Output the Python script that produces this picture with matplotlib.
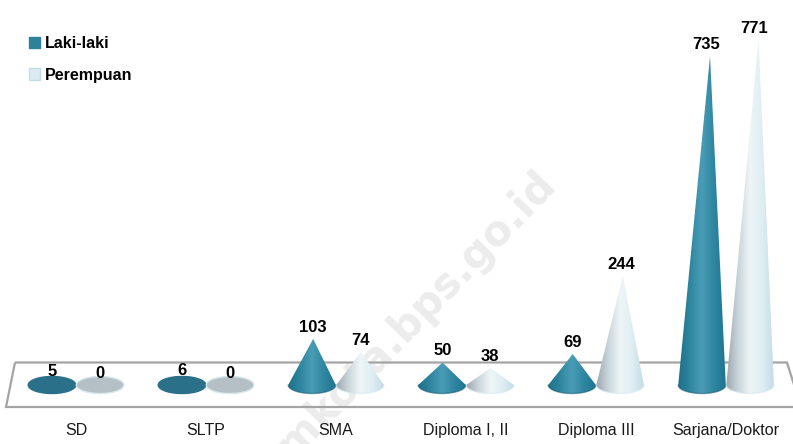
import numpy as np
import matplotlib
matplotlib.use('Agg')
import matplotlib.pyplot as plt
from matplotlib.colors import LinearSegmentedColormap
from matplotlib.patches import Patch, Polygon

categories = ['SD', 'SLTP', 'SMA', 'Diploma I, II', 'Diploma III', 'Sarjana/Doktor']
laki_laki = [5, 6, 103, 50, 69, 735]
perempuan = [0, 0, 74, 38, 244, 771]

W, H = 793, 444
FONT = ['Liberation Sans', 'DejaVu Sans']

blue_cmap = LinearSegmentedColormap.from_list('blue', ['#1f6f88', '#2f86a0', '#4a9cb6', '#2f86a0', '#1f7590'])
white_cmap = LinearSegmentedColormap.from_list('white', ['#9aa6ab', '#c9d5da', '#eef5f7', '#dfeef4', '#c4dce5'])


def px(x, y):
    return x / W, 1 - y / H


fig = plt.figure(figsize=(W / 100, H / 100), dpi=100)
# axes run the whole width, zero sits 385px down, 0.4475px per unit
bottom_px = 415
ax = fig.add_axes([0, 1 - bottom_px / H, 1, bottom_px / H])
ax.patch.set_alpha(0)
px_per_cat = 130
ax.set_xlim(-52 / px_per_cat, (W - 52) / px_per_cat)
ax.set_ylim((385 - bottom_px) / 0.4475, 385 / 0.4475)
xlim, ylim = ax.get_xlim(), ax.get_ylim()

# platform behind the cones, no fill so the watermark shows through
platform = [px(15, 362.5), px(787, 362.5), px(801, 407), px(6, 407)]
ax.add_patch(Polygon(platform, closed=True, transform=fig.transFigure, facecolor='none',
                     edgecolor='#a4a4a4', linewidth=1.6, clip_on=True, zorder=1))

half_w = 0.183
base_h = 19
lean = 8.4e-5


def draw_cone(xc, value, cmap, flat_color, rim_color, flat_edge):
    t = np.linspace(0, np.pi, 60)
    arc_x = xc + half_w * np.cos(t)
    arc_y = -base_h * np.sin(t)
    if value < 10:
        # almost no height, only the base disc shows
        t2 = np.linspace(0, 2 * np.pi, 120)
        ax.fill(xc + half_w * np.cos(t2), base_h * np.sin(t2), facecolor=flat_color,
                edgecolor=flat_edge, linewidth=1.0, zorder=3)
        return
    tip_x = xc + lean * value
    pts = np.column_stack([np.r_[tip_x, arc_x], np.r_[value, arc_y]])
    grad = np.linspace(0, 1, 256).reshape(1, -1)
    im = ax.imshow(grad, cmap=cmap, aspect='auto', zorder=3,
                   extent=[xc - half_w, xc + half_w, -base_h, value])
    outline = Polygon(pts, closed=True, facecolor='none', edgecolor='none', transform=ax.transData)
    ax.add_patch(outline)
    im.set_clip_path(outline)
    ax.plot(arc_x, arc_y, color=rim_color, linewidth=1.0, alpha=0.6, zorder=4, solid_capstyle='round')


for i in range(len(categories)):
    draw_cone(i, laki_laki[i], blue_cmap, '#2a7088', '#1c6078', '#2a7088')
    draw_cone(i + 0.37, perempuan[i], white_cmap, '#b4c0c6', '#d5eaf2', '#d7e7ec')
    for xc, value in [(i, laki_laki[i]), (i + 0.37, perempuan[i])]:
        ax.annotate(str(value), (xc + lean * value / 2, value), xytext=(0, 3), textcoords='offset points',
                    ha='center', va='bottom', fontsize=12, fontweight='bold', family=FONT, zorder=6)

ax.set_xlim(xlim)
ax.set_ylim(ylim)
ax.set_xticks(np.arange(len(categories)) + 0.185, categories, family=FONT, fontsize=11.5, color='#1a1a1a')
ax.tick_params(axis='x', length=0, pad=6)
ax.set_yticks([])
for side in ax.spines.values():
    side.set_visible(False)

handles = [Patch(facecolor='#2f8198', edgecolor='#2f8198', label='Laki-laki'),
           Patch(facecolor='#dcebf2', edgecolor='#c3dce6', label='Perempuan')]
ax.legend(handles=handles, loc='upper left', bbox_to_anchor=(px(24, 0)[0], 1 - 31 / bottom_px), frameon=False,
          prop={'family': FONT, 'weight': 'bold', 'size': 11.5}, handlelength=0.72, handleheight=0.72,
          handletextpad=0.3, labelspacing=1.05, borderpad=0.3, borderaxespad=0)

# watermark goes under the axes
wm_x, wm_y = px(558, 187)
fig.text(wm_x, wm_y, 'amkota.bps.go.id', rotation=46, rotation_mode='anchor', ha='right', va='baseline',
         fontsize=30, fontweight='bold', family='DejaVu Sans', color='#ececec', zorder=-1)

fig.savefig('out.png', dpi=100)
